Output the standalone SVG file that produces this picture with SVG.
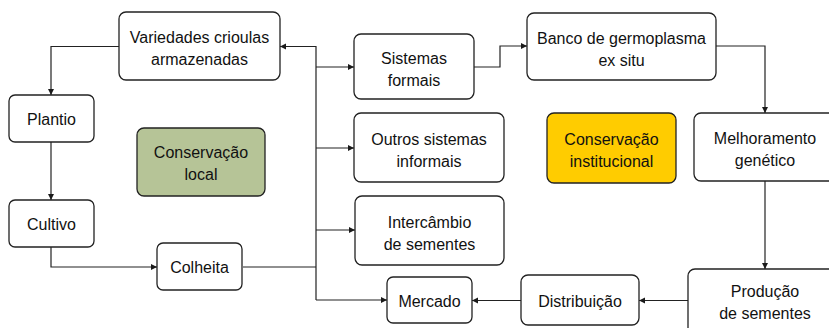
<svg xmlns="http://www.w3.org/2000/svg" width="829" height="328" viewBox="0 0 829 328">
<defs>
<marker id="ah" markerUnits="userSpaceOnUse" markerWidth="7" markerHeight="7" refX="6" refY="3" orient="auto">
<path d="M0,0 L6,3 L0,6 z" fill="#1a1a1a"/>
</marker>
<style>
.box{fill:#fff;stroke:#222;stroke-width:1.3}
.green{fill:#b6c497}
.yellow{fill:#ffcc00}
text{font-family:"Liberation Sans",Arial,sans-serif;font-size:16px;fill:#111;text-anchor:middle}
.c path{fill:none;stroke:#222;stroke-width:1.2}
.a{marker-end:url(#ah)}
</style>
</defs>
<rect width="829" height="328" fill="#fff"/>
<g class="c" id="connectors">
<path class="a" d="M119,46.5 H51 V95"/>
<path class="a" d="M51,142 V200"/>
<path class="a" d="M51,247 V267 H157"/>
<path d="M243,267 H316"/>
<path class="a" d="M316,300 V46.5 H280"/>
<path class="a" d="M316,67 H354"/>
<path class="a" d="M316,148 H354"/>
<path class="a" d="M316,230 H355"/>
<path class="a" d="M316,300 H387"/>
<path class="a" d="M474,67 H500 V46 H527"/>
<path class="a" d="M716,46 H765 V113"/>
<path class="a" d="M765,181 V269"/>
<path class="a" d="M688,300.5 H639"/>
<path class="a" d="M521,300.5 H472"/>
</g>
<g id="variedades"><rect class="box" x="119" y="12" width="161" height="68" rx="7"/><text x="199.5" y="43">Variedades crioulas</text><text x="199.5" y="65">armazenadas</text></g>
<g id="plantio"><rect class="box" x="9" y="95" width="85" height="47" rx="6"/><text x="51.5" y="124.5">Plantio</text></g>
<g id="conservacao-local"><rect class="box green" x="137" y="128" width="128" height="68" rx="7"/><text x="201" y="158">Conservação</text><text x="201" y="180">local</text></g>
<g id="cultivo"><rect class="box" x="9" y="200" width="85" height="47" rx="6"/><text x="51.5" y="230">Cultivo</text></g>
<g id="colheita"><rect class="box" x="157" y="243" width="85" height="47" rx="6"/><text x="199.5" y="273">Colheita</text></g>
<g id="sistemas-formais"><rect class="box" x="354" y="34" width="120" height="65" rx="7"/><text x="414" y="63.5">Sistemas</text><text x="414" y="85.5">formais</text></g>
<g id="outros-sistemas"><rect class="box" x="354" y="113" width="150" height="69" rx="7"/><text x="429" y="144.5">Outros sistemas</text><text x="429" y="166.5">informais</text></g>
<g id="intercambio"><rect class="box" x="355" y="196" width="149" height="69" rx="7"/><text x="429.5" y="227.5">Intercâmbio</text><text x="429.5" y="249.5">de sementes</text></g>
<g id="mercado"><rect class="box" x="387" y="277" width="85" height="46" rx="6"/><text x="429.5" y="307">Mercado</text></g>
<g id="banco"><rect class="box" x="527" y="13" width="189" height="67" rx="7"/><text x="621.5" y="43.5">Banco de germoplasma</text><text x="621.5" y="65.5">ex situ</text></g>
<g id="conservacao-institucional"><rect class="box yellow" x="547" y="113" width="129" height="70" rx="7"/><text x="611.5" y="145">Conservação</text><text x="611.5" y="167">institucional</text></g>
<g id="melhoramento"><rect class="box" x="694" y="113" width="142" height="68" rx="7"/><text x="765" y="144">Melhoramento</text><text x="765" y="166">genético</text></g>
<g id="distribuicao"><rect class="box" x="521" y="275" width="118" height="50" rx="7"/><text x="580" y="307">Distribuição</text></g>
<g id="producao"><rect class="box" x="688" y="269" width="154" height="70" rx="7"/><text x="765" y="297">Produção</text><text x="765" y="319">de sementes</text></g>
</svg>
